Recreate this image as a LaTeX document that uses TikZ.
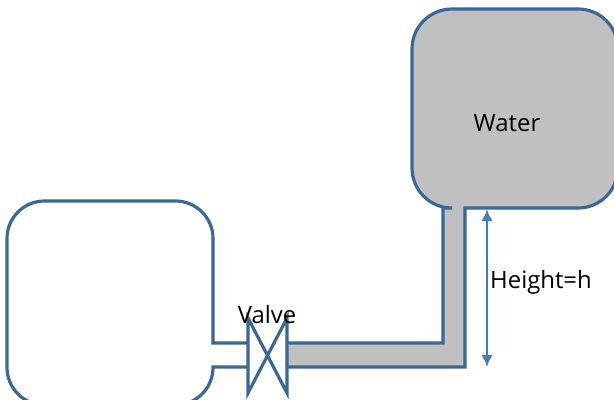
\documentclass[tikz,border=0pt]{standalone}
\usepackage{xcolor}
\usepackage{fontspec}
\setmainfont{Open Sans}
\usetikzlibrary{arrows.meta}
\definecolor{tankblue}{RGB}{58,104,150}
\definecolor{arrowblue}{RGB}{70,125,185}
\definecolor{watergray}{RGB}{192,192,192}
\tikzset{
  tankline/.style={line width=1.8pt, color=tankblue, line join=miter},
  heightline/.style={line width=1.1pt, color=arrowblue, {Latex[length=0.24cm,width=0.22cm]}-{Latex[length=0.24cm,width=0.22cm]}},
  labeltext/.style={font=\fontsize{13.6pt}{15pt}\selectfont, text=black, inner sep=0pt}
}

\begin{document}
\begin{tikzpicture}[x=0.02cm, y=-0.02cm]
\useasboundingbox (0,0) rectangle (614,399);
\clip (0,0) rectangle (614,399);
% water tank and pipe
\draw[tankline, fill=watergray] (287,343) -- (443,343) -- (443,208) [rounded corners=0.8cm] -- (412,208) -- (412,9) -- (618,9) -- (618,208) [sharp corners] -- (465,208) -- (465,367) -- (287,367);
% empty tank
\draw[tankline] (248,343) -- (213,343) [rounded corners=0.75cm] -- (213,201) -- (7,201) -- (7,405) -- (213,405) [sharp corners] -- (213,367) -- (248,367);
% valve
\draw[tankline] (248,318) -- (248,393) -- (287,318) -- (287,393) -- cycle;
% height
\coordinate (heighttop) at (487,209);
\coordinate (heightbot) at (487,367);
\draw[heightline] (heighttop) -- (heightbot);
\node[labeltext] (water) at (507,123) {Water};
\node[labeltext] (height) at (541,282) {Height=h};
\node[labeltext] (valve) at (267,315) {Valve};
\end{tikzpicture}
\end{document}
